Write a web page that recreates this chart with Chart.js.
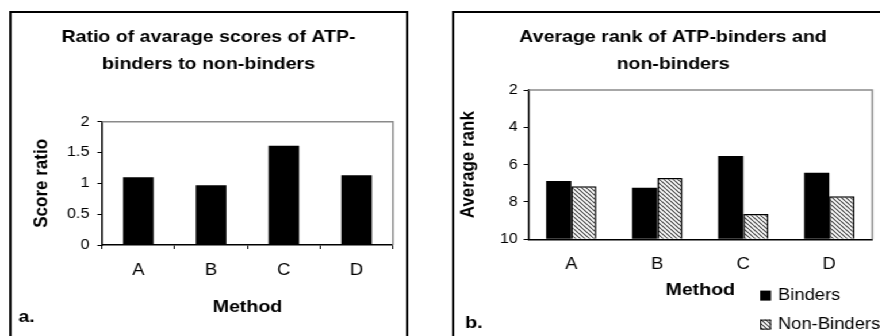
<!DOCTYPE html>
<html>
<head>
<meta charset="utf-8">
<script src="https://cdn.jsdelivr.net/npm/chart.js@4/dist/chart.umd.min.js"></script>
<style>
  body { margin: 0; width: 880px; height: 336px; overflow: hidden; background: #fff; }
  /* the original figure is stretched sideways, so the drawing is too */
  #wrap { position: absolute; left: 0; top: 0; width: 765px; height: 336px; transform: scaleX(1.15); transform-origin: 0 0; }
  .panel { position: absolute; box-sizing: border-box; border: 2px solid #000; background: #fff; }
  canvas { display: block; }
</style>
</head>
<body>
<div id="wrap">
  <div class="panel" style="left:8px; top:11px; width:347px; height:340px;">
    <canvas id="ratioChart" width="343" height="325"></canvas>
  </div>
  <div class="panel" style="left:393px; top:11px; width:400px; height:340px;">
    <canvas id="rankChart" width="380" height="325"></canvas>
  </div>
</div>
<script>
// Data
const methods = ['A', 'B', 'C', 'D'];
const scoreRatio = [1.1, 0.97, 1.61, 1.13];
const ratioTicks = [0, 0.5, 1, 1.5, 2];
const rankBinders = [6.87, 7.23, 5.54, 6.43];
const rankNonBinders = [7.16, 6.71, 8.64, 7.69];
const rankTicks = [2, 4, 6, 8, 10];

Chart.defaults.font.family = "'Liberation Sans', Arial, sans-serif";
Chart.defaults.color = '#000';

// diagonal hatch used for the non-binders
function makeHatch() {
    const s = 4;
    const c = document.createElement('canvas');
    c.width = s; c.height = s;
    const g = c.getContext('2d');
    g.fillStyle = '#fff';
    g.fillRect(0, 0, s, s);
    g.strokeStyle = '#3a3a3a';
    g.lineWidth = 1.1;
    g.beginPath();
    for (let k = -1; k <= 1; k++) {
        g.moveTo(k * s, 0);
        g.lineTo(k * s + s, s);
    }
    g.stroke();
    return g.createPattern(c, 'repeat');
}
const hatch = makeHatch();

// grey frame on top and right of the plot area
const plotFrame = {
    id: 'plotFrame',
    afterDatasetsDraw(chart) {
        const { ctx, chartArea: a } = chart;
        ctx.save();
        ctx.strokeStyle = '#8a8a8a';
        ctx.lineWidth = 1.5;
        ctx.beginPath();
        ctx.moveTo(a.left, a.top);
        ctx.lineTo(a.right, a.top);
        ctx.lineTo(a.right, a.bottom);
        ctx.stroke();
        ctx.restore();
    }
};

// panel letter "a." / "b."
function panelTag(label, x, y) {
    return {
        id: 'panelTag',
        afterDraw(chart) {
            const ctx = chart.ctx;
            ctx.save();
            ctx.font = "bold 17px 'Liberation Sans', Arial, sans-serif";
            ctx.fillStyle = '#000';
            ctx.textBaseline = 'alphabetic';
            ctx.fillText(label, x, y);
            ctx.restore();
        }
    };
}

// small legend under the right plot
const sideLegend = {
    id: 'sideLegend',
    afterDraw(chart) {
        const ctx = chart.ctx;
        const x = 266, y0 = 282.6, gap = 29;
        ctx.save();
        ctx.font = "16px 'Liberation Sans', Arial, sans-serif";
        ctx.textBaseline = 'middle';
        chart.data.datasets.forEach((ds, i) => {
            const y = y0 + i * gap;
            ctx.fillStyle = ds.backgroundColor;
            ctx.fillRect(x, y - 5, 9.5, 10);
            if (ds.borderWidth) {
                ctx.strokeStyle = '#000';
                ctx.lineWidth = 1;
                ctx.strokeRect(x + 0.5, y - 4.5, 8.5, 9);
            }
            ctx.fillStyle = '#000';
            ctx.fillText(ds.label, x + 15.5, y);
        });
        ctx.restore();
    }
};

const titleFont = { size: 17, weight: 'bold', lineHeight: 1.59 };
const axisTitleFont = { size: 17, weight: 'bold' };
const plainNumber = v => String(v);

// Left: ratio chart
new Chart(document.getElementById('ratioChart'), {
    type: 'bar',
    data: {
        labels: methods,
        datasets: [{
            label: 'Score ratio',
            data: scoreRatio,
            backgroundColor: '#000',
            barPercentage: 0.42,
            categoryPercentage: 1
        }]
    },
    options: {
        responsive: false,
        animation: false,
        layout: { padding: { left: 11, right: 11.3, top: 0, bottom: 0 } },
        plugins: {
            legend: { display: false },
            tooltip: { enabled: false },
            title: {
                display: true,
                text: ['Ratio of avarage scores of ATP-', 'binders to non-binders'],
                font: titleFont,
                padding: { top: 10.5, bottom: 44.2 }
            }
        },
        scales: {
            x: {
                grid: { drawOnChartArea: false, drawTicks: true, tickLength: 4, color: '#000', lineWidth: 1 },
                border: { color: '#000', width: 1.5 },
                ticks: { font: { size: 16 }, padding: 12.4 },
                title: { display: true, text: 'Method', font: axisTitleFont, padding: { top: 0, bottom: 20 } },
                afterFit(scale) { scale.height = 93; }
            },
            y: {
                min: ratioTicks[0],
                max: ratioTicks[ratioTicks.length - 1],
                grid: { drawOnChartArea: false, drawTicks: true, tickLength: 4, color: '#000', lineWidth: 1 },
                border: { color: '#000', width: 1.5 },
                ticks: { stepSize: ratioTicks[1] - ratioTicks[0], font: { size: 14 }, padding: 7, callback: plainNumber },
                title: { display: true, text: 'Score ratio', font: axisTitleFont, padding: { top: 5.3, bottom: 0 } },
                afterFit(scale) { scale.width = 67.7; }
            }
        }
    },
    plugins: [plotFrame, panelTag('a.', 6, 309)]
});

// Right: average rank chart
new Chart(document.getElementById('rankChart'), {
    type: 'bar',
    data: {
        labels: methods,
        datasets: [{
            label: 'Binders',
            data: rankBinders,
            backgroundColor: '#000',
            base: rankTicks[rankTicks.length - 1],
            barPercentage: 1,
            categoryPercentage: 0.585
        }, {
            label: 'Non-Binders',
            data: rankNonBinders,
            backgroundColor: hatch,
            borderColor: '#000',
            borderWidth: 1.5,
            base: rankTicks[rankTicks.length - 1],
            barPercentage: 1,
            categoryPercentage: 0.585
        }]
    },
    options: {
        responsive: false,
        animation: false,
        layout: { padding: { left: 17, right: 16.5, top: 0, bottom: 0 } },
        plugins: {
            legend: { display: false },
            tooltip: { enabled: false },
            title: {
                display: true,
                text: ['Average rank of ATP-binders and', 'non-binders'],
                font: titleFont,
                padding: { top: 10.5, bottom: 12.5 }
            }
        },
        scales: {
            x: {
                grid: { drawOnChartArea: false, drawTicks: false },
                border: { color: '#000', width: 1.5 },
                ticks: { font: { size: 16 }, padding: 16 },
                title: { display: true, text: 'Method', font: axisTitleFont, padding: { top: 0, bottom: 37 } },
                afterFit(scale) { scale.height = 98.7; }
            },
            y: {
                reverse: true,
                min: rankTicks[0],
                max: rankTicks[rankTicks.length - 1],
                grid: { drawOnChartArea: false, drawTicks: true, tickLength: 4, color: '#000', lineWidth: 1 },
                border: { color: '#000', width: 1.5 },
                ticks: { stepSize: rankTicks[1] - rankTicks[0], font: { size: 14 }, padding: 5, callback: plainNumber },
                title: { display: true, text: 'Average rank', font: axisTitleFont, padding: { top: -15, bottom: 0 } },
                afterFit(scale) { scale.width = 47.4; }
            }
        }
    },
    plugins: [plotFrame, sideLegend, panelTag('b.', 9.5, 315)]
});
</script>
</body>
</html>
